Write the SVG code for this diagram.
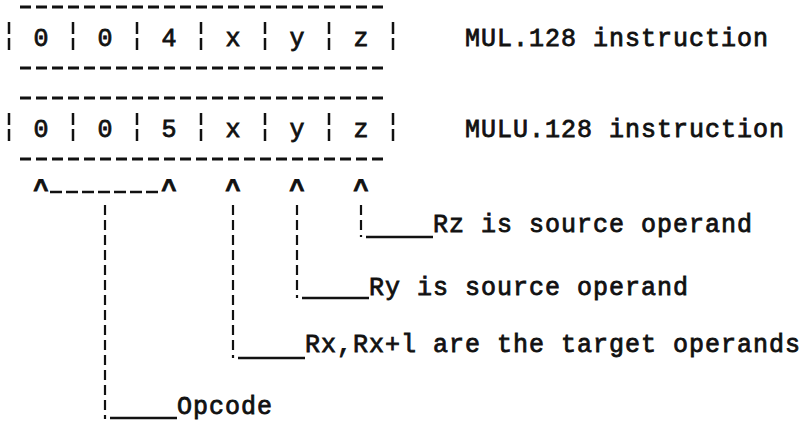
<svg xmlns="http://www.w3.org/2000/svg" width="808" height="421" viewBox="0 0 808 421">
<style>
 .t{font-family:"Liberation Mono","Courier New",monospace;font-size:25px;letter-spacing:1px;fill:#111;stroke:#111;stroke-width:0.8}
 .c{text-anchor:middle;letter-spacing:0}
 .cr{font-weight:bold;font-size:26px}
 .dash{stroke:#111;stroke-width:3;stroke-dasharray:11 5;fill:none}
 .bar{stroke:#111;stroke-width:2.5;stroke-dasharray:12 4;fill:none}
 .conn{stroke:#111;stroke-width:2.2;stroke-dasharray:10 5;fill:none}
 .lead{stroke:#111;stroke-width:2.5;fill:none}
</style>
<rect width="808" height="421" fill="#fff"/>
<g id="mul128">
 <line class="dash" x1="20" y1="7" x2="384" y2="7"/>
 <line class="dash" x1="20" y1="68" x2="384" y2="68"/>
 <path class="bar" d="M9 22V50M73 22V50M137 22V50M201 22V50M265 22V50M329 22V50M393 22V50"/>
 <text class="t c" x="41" y="46">0</text>
 <text class="t c" x="105" y="46">0</text>
 <text class="t c" x="169" y="46">4</text>
 <text class="t c" x="233" y="46">x</text>
 <text class="t c" x="297" y="46">y</text>
 <text class="t c" x="361" y="46">z</text>
 <text class="t" x="465" y="46">MUL.128 instruction</text>
</g>
<g id="mulu128">
 <line class="dash" x1="20" y1="98" x2="384" y2="98"/>
 <line class="dash" x1="20" y1="159" x2="384" y2="159"/>
 <path class="bar" d="M9 113V141M73 113V141M137 113V141M201 113V141M265 113V141M329 113V141M393 113V141"/>
 <text class="t c" x="41" y="137">0</text>
 <text class="t c" x="105" y="137">0</text>
 <text class="t c" x="169" y="137">5</text>
 <text class="t c" x="233" y="137">x</text>
 <text class="t c" x="297" y="137">y</text>
 <text class="t c" x="361" y="137">z</text>
 <text class="t" x="465" y="137">MULU.128 instruction</text>
</g>
<g id="connectors">
 <text class="t c cr" x="41" y="198">^</text>
 <text class="t c cr" x="169" y="198">^</text>
 <text class="t c cr" x="233" y="198">^</text>
 <text class="t c cr" x="297" y="198">^</text>
 <text class="t c cr" x="361" y="198">^</text>
 <line class="dash" x1="50" y1="192" x2="158" y2="192" style="stroke-dasharray:12 4;stroke-width:2.5"/>
 <line class="conn" x1="105" y1="205" x2="105" y2="419"/>
 <line class="conn" x1="233" y1="205" x2="233" y2="358"/>
 <line class="conn" x1="297" y1="205" x2="297" y2="298"/>
 <line class="conn" x1="361" y1="205" x2="361" y2="237"/>
 <line class="lead" x1="366" y1="237" x2="433" y2="237"/>
 <line class="lead" x1="302" y1="298" x2="369" y2="298"/>
 <line class="lead" x1="238" y1="358" x2="305" y2="358"/>
 <line class="lead" x1="110" y1="418" x2="177" y2="418"/>
</g>
<g id="label-rz"><text class="t" x="433" y="232">Rz is source operand</text></g>
<g id="label-ry"><text class="t" x="369" y="295">Ry is source operand</text></g>
<g id="label-rx"><text class="t" x="305" y="352">Rx,Rx+l are the target operands</text></g>
<g id="label-opcode"><text class="t" x="177" y="414">Opcode</text></g>
</svg>
